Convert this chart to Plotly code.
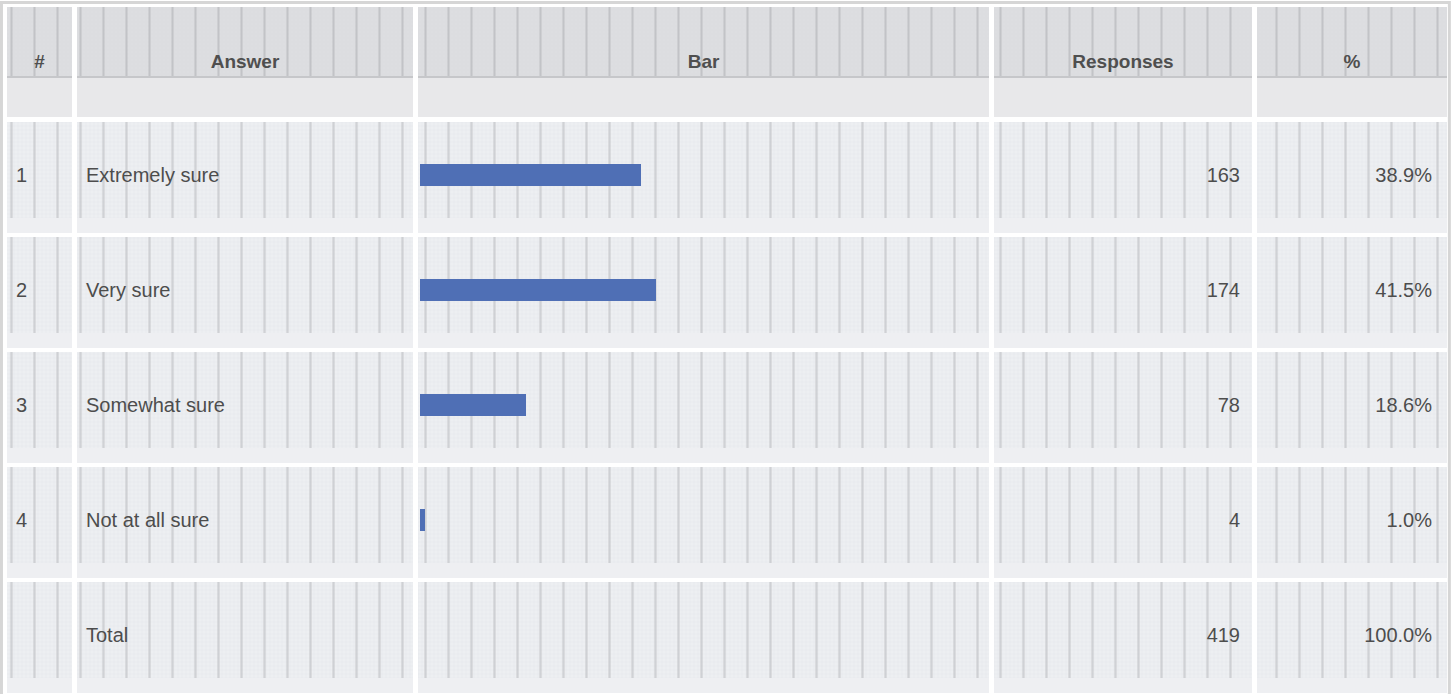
import plotly.graph_objects as go

# ---------------- data ----------------
headers = ["#", "Answer", "Bar", "Responses", "%"]
row_numbers = ["1", "2", "3", "4"]
answers = ["Extremely sure", "Very sure", "Somewhat sure", "Not at all sure"]
responses = [163, 174, 78, 4]
percents = [38.9, 41.5, 18.6, 1.0]
total_label = "Total"
total_responses = 419
total_percent = 100.0

# ---------------- layout geometry (pixels) ----------------
W, H = 1453, 694
col_edges = [(7, 72), (77, 413), (418, 989), (994, 1252), (1257, 1447)]
bar_span = (420, 988)
head_top, head_tex_bottom, head_bottom = 7, 78, 117
row_top0, row_pitch, row_tex_h, row_band_h = 122, 115, 96, 111
bar_dy = 53
text_dy = 55
bar_height = 22

n_rows = len(answers) + 1  # + total row
row_tops = [row_top0 + k * row_pitch for k in range(n_rows)]
bar_centers = [t + bar_dy for t in row_tops]
text_centers = [t + text_dy for t in row_tops]

BODY_FONT = dict(family="Liberation Sans, Arial, sans-serif", size=20, color="#4d4d4d")
HEAD_FONT = dict(family="Liberation Sans, Arial, sans-serif", size=19, color="#4f4f4f")

fig = go.Figure()


def rect_path(cells):
    xs, ys = [], []
    for (x0, y0, x1, y1) in cells:
        xs += [x0, x1, x1, x0, x0, None]
        ys += [y0, y0, y1, y1, y0, None]
    return xs, ys


def fill_trace(xs, ys, color, pattern=None):
    kw = dict(x=xs, y=ys, mode="lines", fill="toself", line=dict(width=0),
              fillcolor=color, hoverinfo="skip", showlegend=False)
    if pattern:
        kw["fillpattern"] = pattern
    return go.Scatter(**kw)


# header textured cells
hx, hy = rect_path([(c0, head_top, c1, head_tex_bottom) for c0, c1 in col_edges])
fig.add_trace(fill_trace(hx, hy, "#dcdde0",
                         dict(shape="+", size=4, solidity=0.12, fgcolor="#cdced2", bgcolor="#dddee1")))
fig.add_trace(fill_trace(hx, hy, "rgba(0,0,0,0)",
                         dict(shape="|", size=23, solidity=0.09, fgcolor="#a8a9ad", bgcolor="rgba(0,0,0,0)")))
# header plain part
px_, py_ = rect_path([(c0, head_tex_bottom, c1, head_bottom) for c0, c1 in col_edges])
fig.add_trace(fill_trace(px_, py_, "#e8e8ea"))
# header bottom darker line
lx, ly = rect_path([(c0, head_tex_bottom - 2, c1, head_tex_bottom) for c0, c1 in col_edges])
fig.add_trace(fill_trace(lx, ly, "#c6c7ca"))

# body textured cells
tex_cells = [(c0, t, c1, t + row_tex_h) for t in row_tops for c0, c1 in col_edges]
tx, ty = rect_path(tex_cells)
fig.add_trace(fill_trace(tx, ty, "#eceef1",
                         dict(shape="+", size=4, solidity=0.14, fgcolor="#d8d9de", bgcolor="#edeff2")))
fig.add_trace(fill_trace(tx, ty, "rgba(0,0,0,0)",
                         dict(shape="|", size=23, solidity=0.1, fgcolor="#b4b5ba", bgcolor="rgba(0,0,0,0)")))
# body lower bands
band_cells = [(c0, t + row_tex_h, c1, t + row_band_h) for t in row_tops for c0, c1 in col_edges]
bx, by = rect_path(band_cells)
fig.add_trace(fill_trace(bx, by, "#eeeff2"))

# ---------------- texts ----------------
head_x = [(c0 + c1) / 2 for c0, c1 in col_edges]
fig.add_trace(go.Scatter(x=head_x, y=[63] * len(headers), mode="text",
                         text=[f"<b>{h}</b>" for h in headers],
                         textposition="middle center", textfont=HEAD_FONT,
                         hoverinfo="skip", showlegend=False))

num_x = col_edges[0][0] + 9
ans_x = col_edges[1][0] + 9
resp_x = col_edges[3][1] - 12
pct_x = col_edges[4][1] - 15

fig.add_trace(go.Scatter(x=[num_x] * len(row_numbers), y=text_centers[:len(row_numbers)], mode="text",
                         text=row_numbers, textposition="middle right", textfont=BODY_FONT,
                         hoverinfo="skip", showlegend=False))
fig.add_trace(go.Scatter(x=[ans_x] * n_rows, y=text_centers, mode="text",
                         text=answers + [total_label], textposition="middle right", textfont=BODY_FONT,
                         hoverinfo="skip", showlegend=False))
fig.add_trace(go.Scatter(x=[resp_x] * n_rows, y=text_centers, mode="text",
                         text=[str(v) for v in responses + [total_responses]], textposition="middle left",
                         textfont=BODY_FONT, hoverinfo="skip", showlegend=False))
fig.add_trace(go.Scatter(x=[pct_x] * n_rows, y=text_centers, mode="text",
                         text=[f"{p:.1f}%" for p in percents + [total_percent]], textposition="middle left",
                         textfont=BODY_FONT, hoverinfo="skip", showlegend=False))

# ---------------- bars (own x scale spanning the Bar column, 0..total) ----------------
fig.add_trace(go.Bar(x=responses, y=bar_centers[:len(responses)], orientation="h",
                     width=bar_height, marker=dict(color="#4f6fb5", line=dict(width=0)),
                     xaxis="x2", yaxis="y", hoverinfo="skip", showlegend=False))

# outer frame
fig.add_shape(type="rect", xref="paper", yref="paper", x0=0.001, y0=-0.01, x1=0.9975, y1=0.9965,
              line=dict(color="#d6d6d6", width=3), fillcolor="rgba(0,0,0,0)", layer="below")

fig.update_layout(
    width=W, height=H,
    margin=dict(l=0, r=0, t=0, b=0),
    paper_bgcolor="white", plot_bgcolor="rgba(0,0,0,0)",
    xaxis=dict(range=[0, W], domain=[0, 1], visible=False, fixedrange=True),
    yaxis=dict(range=[H, 0], domain=[0, 1], visible=False, fixedrange=True),
    xaxis2=dict(range=[0, total_responses], domain=[bar_span[0] / W, bar_span[1] / W],
                anchor="y", visible=False, fixedrange=True),
    bargap=0,
)

fig.write_html("out.html", config=dict(displayModeBar=False, staticPlot=True),
               post_script="document.body.style.margin='0';document.body.style.overflow='hidden';")
